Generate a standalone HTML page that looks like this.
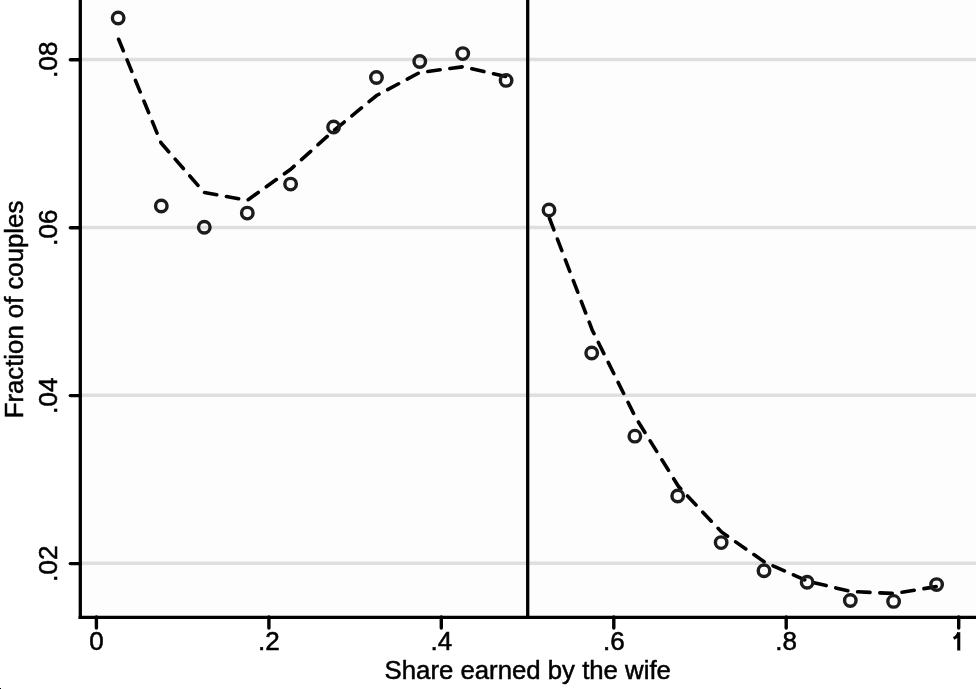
<!DOCTYPE html>
<html><head><meta charset="utf-8"><style>
html,body{margin:0;padding:0;background:#fff;width:976px;height:689px;overflow:hidden}
svg{display:block;will-change:transform}
.t{font-family:"Liberation Sans",sans-serif;font-size:26px;fill:#000;stroke:#000;stroke-width:0.55px}
.tt{font-size:25.75px;stroke-width:0.5px}
</style></head><body>
<svg width="976" height="689" viewBox="0 0 976 689">
<rect x="0" y="0" width="976" height="689" fill="#ffffff"/>
<rect x="81.8" y="0" width="894.2" height="615.7" fill="#fdfdfd"/>
<line x1="82" y1="563.3" x2="976" y2="563.3" stroke="#dfdfdf" stroke-width="3.5"/>
<line x1="82" y1="395.3" x2="976" y2="395.3" stroke="#dfdfdf" stroke-width="3.5"/>
<line x1="82" y1="227.4" x2="976" y2="227.4" stroke="#dfdfdf" stroke-width="3.5"/>
<line x1="82" y1="59.4" x2="976" y2="59.4" stroke="#dfdfdf" stroke-width="3.5"/>
<line x1="80.3" y1="0" x2="80.3" y2="619" stroke="#000" stroke-width="3.3"/>
<line x1="78.65" y1="617.4" x2="976" y2="617.4" stroke="#000" stroke-width="3.3"/>
<line x1="70.3" y1="563.6" x2="80" y2="563.6" stroke="#000" stroke-width="3.4" stroke-linecap="round"/>
<text x="57.5" y="563.6" transform="rotate(-90 57.5 563.6)" text-anchor="middle" class="t">.02</text>
<line x1="70.3" y1="395.6" x2="80" y2="395.6" stroke="#000" stroke-width="3.4" stroke-linecap="round"/>
<text x="57.5" y="395.6" transform="rotate(-90 57.5 395.6)" text-anchor="middle" class="t">.04</text>
<line x1="70.3" y1="227.7" x2="80" y2="227.7" stroke="#000" stroke-width="3.4" stroke-linecap="round"/>
<text x="57.5" y="227.7" transform="rotate(-90 57.5 227.7)" text-anchor="middle" class="t">.06</text>
<line x1="70.3" y1="59.7" x2="80" y2="59.7" stroke="#000" stroke-width="3.4" stroke-linecap="round"/>
<text x="57.5" y="59.7" transform="rotate(-90 57.5 59.7)" text-anchor="middle" class="t">.08</text>
<line x1="96.4" y1="617" x2="96.4" y2="628" stroke="#000" stroke-width="3.4" stroke-linecap="round"/>
<text x="96.4" y="650.3" text-anchor="middle" class="t">0</text>
<line x1="268.9" y1="617" x2="268.9" y2="628" stroke="#000" stroke-width="3.4" stroke-linecap="round"/>
<text x="268.9" y="650.3" text-anchor="middle" class="t">.2</text>
<line x1="441.3" y1="617" x2="441.3" y2="628" stroke="#000" stroke-width="3.4" stroke-linecap="round"/>
<text x="441.3" y="650.3" text-anchor="middle" class="t">.4</text>
<line x1="613.8" y1="617" x2="613.8" y2="628" stroke="#000" stroke-width="3.4" stroke-linecap="round"/>
<text x="613.8" y="650.3" text-anchor="middle" class="t">.6</text>
<line x1="786.2" y1="617" x2="786.2" y2="628" stroke="#000" stroke-width="3.4" stroke-linecap="round"/>
<text x="786.2" y="650.3" text-anchor="middle" class="t">.8</text>
<line x1="958.7" y1="617" x2="958.7" y2="628" stroke="#000" stroke-width="3.4" stroke-linecap="round"/>
<path d="M958.75 632.2 L958.75 650.4 M953.6 638.4 C956.6 637.0 958.2 635.0 958.75 632.2" fill="none" stroke="#000" stroke-width="3.1"/>
<line x1="527.7" y1="0" x2="527.7" y2="617" stroke="#000" stroke-width="3.3"/>
<polyline points="118.0,37.7 161.1,143.0 204.2,192.5 247.3,200.3 290.4,169.5 333.5,130.8 376.6,95.5 419.7,72.5 462.8,66.8 505.9,76.5" fill="none" stroke="#000" stroke-width="3.6" stroke-linecap="round" stroke-dasharray="12.4 9.86" stroke-dashoffset="-1.67"/>
<polyline points="549.0,217.0 592.2,330.0 635.3,417.0 678.4,486.3 721.5,532.0 764.6,562.0 807.7,581.2 850.8,591.5 893.9,593.5 937.0,586.5" fill="none" stroke="#000" stroke-width="3.6" stroke-linecap="round" stroke-dasharray="12.4 9.86" stroke-dashoffset="-1.33"/>
<circle cx="118.15" cy="18.00" r="5.75" fill="none" stroke="#1c1c1c" stroke-width="3.4"/>
<circle cx="161.30" cy="206.00" r="5.75" fill="none" stroke="#1c1c1c" stroke-width="3.4"/>
<circle cx="204.30" cy="227.30" r="5.75" fill="none" stroke="#1c1c1c" stroke-width="3.4"/>
<circle cx="247.30" cy="213.10" r="5.75" fill="none" stroke="#1c1c1c" stroke-width="3.4"/>
<circle cx="290.60" cy="184.10" r="5.75" fill="none" stroke="#1c1c1c" stroke-width="3.4"/>
<circle cx="333.60" cy="127.00" r="5.75" fill="none" stroke="#1c1c1c" stroke-width="3.4"/>
<circle cx="376.45" cy="77.45" r="5.75" fill="none" stroke="#1c1c1c" stroke-width="3.4"/>
<circle cx="419.75" cy="61.55" r="5.75" fill="none" stroke="#1c1c1c" stroke-width="3.4"/>
<circle cx="462.75" cy="53.60" r="5.75" fill="none" stroke="#1c1c1c" stroke-width="3.4"/>
<circle cx="506.10" cy="80.40" r="5.75" fill="none" stroke="#1c1c1c" stroke-width="3.4"/>
<circle cx="549.00" cy="210.00" r="5.75" fill="none" stroke="#1c1c1c" stroke-width="3.4"/>
<circle cx="591.70" cy="353.00" r="5.75" fill="none" stroke="#1c1c1c" stroke-width="3.4"/>
<circle cx="634.85" cy="436.15" r="5.75" fill="none" stroke="#1c1c1c" stroke-width="3.4"/>
<circle cx="677.70" cy="496.00" r="5.75" fill="none" stroke="#1c1c1c" stroke-width="3.4"/>
<circle cx="721.15" cy="542.60" r="5.75" fill="none" stroke="#1c1c1c" stroke-width="3.4"/>
<circle cx="764.00" cy="570.70" r="5.75" fill="none" stroke="#1c1c1c" stroke-width="3.4"/>
<circle cx="807.15" cy="582.30" r="5.75" fill="none" stroke="#1c1c1c" stroke-width="3.4"/>
<circle cx="850.30" cy="600.45" r="5.75" fill="none" stroke="#1c1c1c" stroke-width="3.4"/>
<circle cx="893.60" cy="601.40" r="5.75" fill="none" stroke="#1c1c1c" stroke-width="3.4"/>
<circle cx="936.60" cy="584.60" r="5.75" fill="none" stroke="#1c1c1c" stroke-width="3.4"/>
<text x="384.6" y="679.3" class="t tt">Share earned by the wife</text>
<text x="23.3" y="418.3" transform="rotate(-90 23.3 418.3)" class="t tt">Fraction of couples</text>
<rect x="0" y="688" width="1" height="1" fill="#000"/>
</svg>
</body></html>
